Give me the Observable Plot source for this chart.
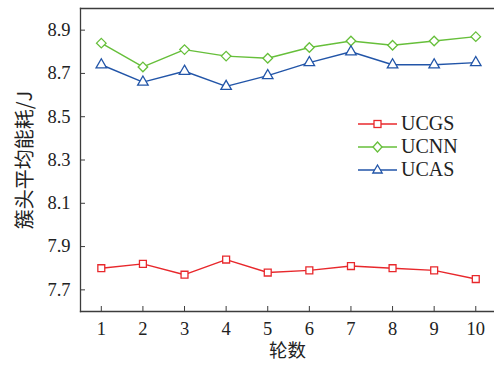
<!DOCTYPE html>
<html>
<head>
<meta charset="utf-8">
<script src="https://cdn.jsdelivr.net/npm/d3@7"></script>
<script src="https://cdn.jsdelivr.net/npm/@observablehq/plot@0.6"></script>
<style>
  html, body { margin: 0; padding: 0; background: #fff; }
  #wrap { position: relative; width: 494px; height: 369px; }
  #legend { position: absolute; left: 358px; top: 112px; font-family: "Liberation Serif", serif; font-size: 20px; color: #222; }
  #legend .row { display: flex; align-items: center; height: 23px; }
  #legend svg { margin-right: 3px; }
</style>
</head>
<body>
<div id="wrap"></div>
<script>
const rounds = [1, 2, 3, 4, 5, 6, 7, 8, 9, 10];
const ucgs = [7.80, 7.82, 7.77, 7.84, 7.78, 7.79, 7.81, 7.80, 7.79, 7.75];
const ucnn = [8.84, 8.73, 8.81, 8.78, 8.77, 8.82, 8.85, 8.83, 8.85, 8.87];
const ucas = [8.74, 8.66, 8.71, 8.64, 8.69, 8.75, 8.80, 8.74, 8.74, 8.75];
const yTicks = [7.7, 7.9, 8.1, 8.3, 8.5, 8.7, 8.9];
const seriesNames = ["UCGS", "UCNN", "UCAS"];
const seriesColors = ["#e8282c", "#66bf3a", "#2255a8"];
const seriesSymbols = ["square", "diamond2", "triangle"];
const seriesR = [3.9, 4.3, 3.9];
const xLabel = "轮数";
const yLabel = "簇头平均能耗/J";

const seriesValues = [ucgs, ucnn, ucas];
const data = seriesNames.flatMap((name, i) =>
  rounds.map((r, j) => ({series: name, round: r, value: seriesValues[i][j]})));

const axisColor = "#3c3c3c";
const serif = "'Liberation Serif', 'Times New Roman', serif";
const cjk = "'Noto Sans CJK SC', sans-serif";

const marks = [];
seriesNames.forEach((name, i) => {
  const d = data.filter(e => e.series === name);
  marks.push(Plot.line(d, {x: "round", y: "value", stroke: seriesColors[i], strokeWidth: 1.4}));
  marks.push(Plot.dot(d, {x: "round", y: "value", symbol: () => seriesSymbols[i], r: seriesR[i],
    stroke: seriesColors[i], fill: "white", strokeWidth: 1.3}));
});

const chart = Plot.plot({
  width: 494,
  height: 369,
  marginLeft: 80,
  marginRight: 0,
  marginTop: 8,
  marginBottom: 58,
  style: {fontFamily: serif, fontSize: "18px", color: "#222", background: "white"},
  x: {domain: [0.5, 10.45]},
  y: {domain: [7.6, 9.0]},
  symbol: {type: "identity"},
  marks: [
    Plot.axisX(rounds, {tickSize: -5, tickPadding: 15, stroke: axisColor, fontSize: 18.5, fontFamily: serif, label: null, tickFormat: d => String(d)}),
    Plot.axisY(yTicks, {tickSize: -5, tickPadding: 15, stroke: axisColor, fontSize: 18.5, fontFamily: serif, label: null, tickFormat: d => d.toFixed(1)}),
    Plot.frame({anchor: "left", stroke: axisColor, strokeWidth: 1.3}),
    Plot.frame({anchor: "bottom", stroke: axisColor, strokeWidth: 1.3}),
    Plot.frame({anchor: "top", stroke: axisColor, strokeWidth: 1.3}),
    Plot.text([xLabel], {frameAnchor: "bottom", textAnchor: "middle", dy: 45, fontFamily: cjk, fontSize: 18.5, fill: "#222"}),
    Plot.text([yLabel], {frameAnchor: "left", textAnchor: "middle", lineAnchor: "middle", dx: -55, rotate: -90, fontFamily: cjk, fontSize: 20, fill: "#222"}),
    ...marks
  ]
});

const wrap = document.getElementById("wrap");
wrap.appendChild(chart);

// Legend
const legend = document.createElement("div");
legend.id = "legend";
const sym = {
  square: (c) => `<rect x="16" y="6.5" width="7" height="7" fill="white" stroke="${c}" stroke-width="1.3"/>`,
  diamond2: (c) => `<path d="M19.5,5 L24,10 L19.5,15 L15,10 Z" fill="white" stroke="${c}" stroke-width="1.3"/>`,
  triangle: (c) => `<path d="M19.5,5 L24.2,13 L14.8,13 Z" fill="white" stroke="${c}" stroke-width="1.3"/>`
};
seriesNames.forEach((name, i) => {
  const row = document.createElement("div");
  row.className = "row";
  row.innerHTML = `<svg width="40" height="20"><line x1="0" x2="39" y1="10" y2="10" stroke="${seriesColors[i]}" stroke-width="1.4"/>${sym[seriesSymbols[i]](seriesColors[i])}</svg><span>${name}</span>`;
  legend.appendChild(row);
});
wrap.appendChild(legend);
</script>
</body>
</html>
